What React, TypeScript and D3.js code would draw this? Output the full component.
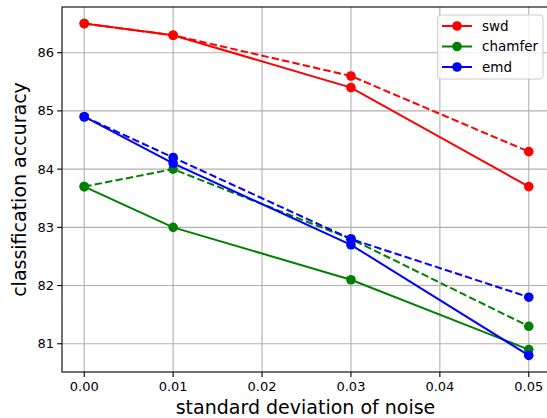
import React from "react";
import * as d3 from "d3";

const xValues = [0, 0.01, 0.03, 0.05];
const xTicks = [0, 0.01, 0.02, 0.03, 0.04, 0.05];
const yTicks = [81, 82, 83, 84, 85, 86];

const swdSolid = [86.5, 86.3, 85.4, 83.7];
const swdDashed = [86.5, 86.3, 85.6, 84.3];
const chamferSolid = [83.7, 83.0, 82.1, 80.9];
const chamferDashed = [83.7, 84.0, 82.8, 81.3];
const emdSolid = [84.9, 84.1, 82.7, 80.8];
const emdDashed = [84.9, 84.2, 82.8, 81.8];

const legendNames = ["swd", "chamfer", "emd"];
const colors = ["#ff0000", "#008000", "#0000ff"];

const series = [
  { values: swdSolid, color: colors[0], dashed: false },
  { values: swdDashed, color: colors[0], dashed: true },
  { values: chamferSolid, color: colors[1], dashed: false },
  { values: chamferDashed, color: colors[1], dashed: true },
  { values: emdSolid, color: colors[2], dashed: false },
  { values: emdDashed, color: colors[2], dashed: true },
];

const W = 547;
const H = 418;
const left = 62;
const right = 551;
const top = 7;
const bottom = 372;
const R = 4.8;

export default function App() {
  const x = d3.scaleLinear().domain([-0.0025, 0.0525]).range([left, right]);
  const y = d3.scaleLinear().domain([80.515, 86.785]).range([bottom, top]);
  const line = d3
    .line<number>()
    .x((_, i) => x(xValues[i]))
    .y((d) => y(d));
  const font = "DejaVu Sans, sans-serif";
  const fmt = d3.format(".2f");

  return (
    <svg
      width={W}
      height={H}
      style={{ position: "absolute", left: 0, top: 0, background: "#fff" }}
      fontFamily={font}
    >
      <rect x={0} y={0} width={W} height={H} fill="#fff" />
      {/* grid */}
      {xTicks.map((t) => (
        <line key={"gx" + t} x1={x(t)} x2={x(t)} y1={top} y2={bottom} stroke="#b0b0b0" strokeWidth={1.1} />
      ))}
      {yTicks.map((t) => (
        <line key={"gy" + t} x1={left} x2={right} y1={y(t)} y2={y(t)} stroke="#b0b0b0" strokeWidth={1.1} />
      ))}
      {/* series */}
      {series.map((s, i) => (
        <g key={"s" + i}>
          <path
            d={line(s.values) || ""}
            fill="none"
            stroke={s.color}
            strokeWidth={2}
            strokeDasharray={s.dashed ? "7.4,3.2" : undefined}
          />
          {s.values.map((v, j) => (
            <circle key={j} cx={x(xValues[j])} cy={y(v)} r={R} fill={s.color} />
          ))}
        </g>
      ))}
      {/* spines */}
      <rect x={left} y={top} width={right - left} height={bottom - top} fill="none" stroke="#000" strokeWidth={1.1} />
      {/* x ticks */}
      {xTicks.map((t) => (
        <g key={"xt" + t}>
          <line x1={x(t)} x2={x(t)} y1={bottom} y2={bottom + 4.9} stroke="#000" strokeWidth={1.1} />
          <text x={x(t)} y={bottom + 19} textAnchor="middle" fontSize={13} fill="#000">
            {fmt(t)}
          </text>
        </g>
      ))}
      {yTicks.map((t) => (
        <g key={"yt" + t}>
          <line x1={left - 4.9} x2={left} y1={y(t)} y2={y(t)} stroke="#000" strokeWidth={1.1} />
          <text x={left - 8} y={y(t)} dy="0.35em" textAnchor="end" fontSize={13} fill="#000">
            {t}
          </text>
        </g>
      ))}
      <text x={(left + right) / 2 - 1} y={413.5} textAnchor="middle" fontSize={19} fill="#000">
        standard deviation of noise
      </text>
      <text
        transform={`translate(26,${(top + bottom) / 2}) rotate(-90)`}
        textAnchor="middle"
        fontSize={19}
        fill="#000"
      >
        classification accuracy
      </text>
      {/* legend */}
      <g>
        <rect x={437.5} y={15} width={105.5} height={64} rx={3} fill="#fff" fillOpacity={0.8} stroke="#cccccc" strokeWidth={1} />
        {legendNames.map((n, i) => {
          const ly = 26 + i * 20.5;
          return (
            <g key={n}>
              <line x1={442} x2={472} y1={ly} y2={ly} stroke={colors[i]} strokeWidth={2} />
              <circle cx={457} cy={ly} r={R} fill={colors[i]} />
              <text x={482} y={ly} dy="0.35em" fontSize={13.5} fill="#000">
                {n}
              </text>
            </g>
          );
        })}
      </g>
    </svg>
  );
}
